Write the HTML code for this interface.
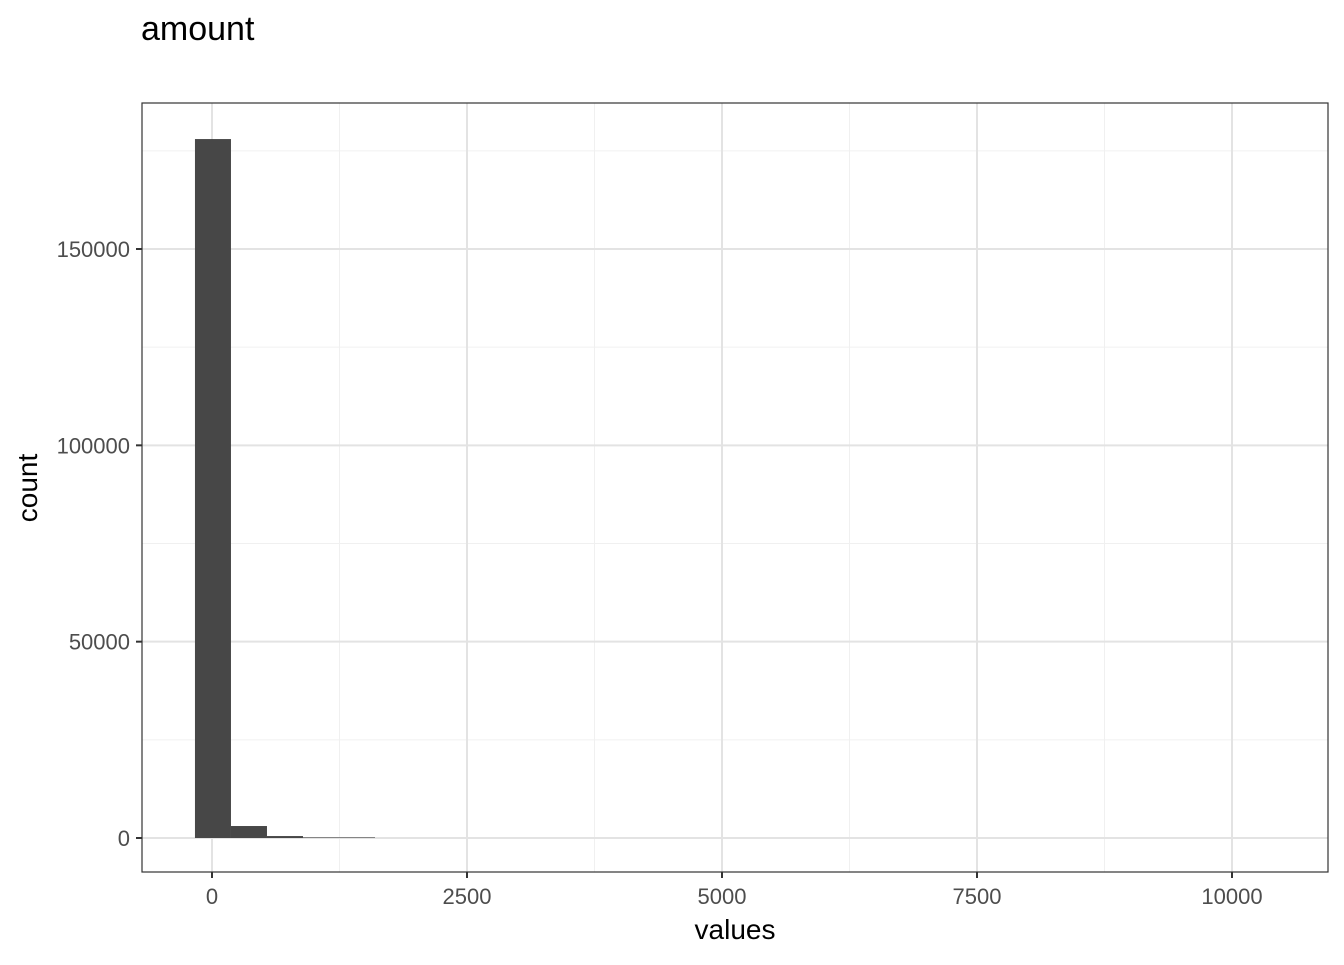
<!DOCTYPE html>
<html><head><meta charset="utf-8"><style>
body{margin:0;background:#fff;font-family:"Liberation Sans",Arial,sans-serif}
</style></head><body>
<svg id="c" width="1344" height="960" xmlns="http://www.w3.org/2000/svg">
<text x="141" y="40" font-size="34" fill="#000">amount</text>
<g id="grid"></g><g id="bars"></g><g id="axes"></g>
<text x="735" y="939" font-size="28" text-anchor="middle">values</text>
<text transform="translate(37,488) rotate(-90)" font-size="28" text-anchor="middle">count</text>
</svg>
<script>
const binStart=-167, binWidth=353;
const counts=[178000,3050,500,120,40,0,0,0,0,0,0,0,0,0,0,0,0,0,0,0,0,0,0,0,0,0,0,0,0,0];
const xTicks=[0,2500,5000,7500,10000];
const xTickLabels=["0","2500","5000","7500","10000"];
const yTicks=[0,50000,100000,150000];
const yTickLabels=["0","50000","100000","150000"];
const L=142,R=1328,T=103,B=872;
const X=v=>212+(v)*(255/2500);
const Y=v=>838-v*(589/150000);
const ns="http://www.w3.org/2000/svg";
function mk(p,t,a){const e=document.createElementNS(ns,t);for(const k in a)e.setAttribute(k,a[k]);p.appendChild(e);return e;}
const g=document.getElementById('grid'),b=document.getElementById('bars'),ax=document.getElementById('axes');
for(let i=0;i<xTicks.length+1;i++){const m=i*2500-1250;if(X(m)>L&&X(m)<R){const l=mk(g,'line',{x1:X(m),x2:X(m),y1:T,y2:B,stroke:'#f0f0f0','stroke-width':1});}}
for(let i=0;i<yTicks.length;i++){const m=yTicks[i]+25000;if(Y(m)>T){const l=mk(g,'line',{x1:L,x2:R,y1:Y(m),y2:Y(m),stroke:'#f0f0f0','stroke-width':1});}}
xTicks.forEach((v,i)=>{const l=mk(g,'line',{x1:X(v),x2:X(v),y1:T,y2:B,stroke:'#e3e3e3','stroke-width':2});
const t=mk(ax,'line',{x1:X(v),x2:X(v),y1:B,y2:B+6,stroke:'#333','stroke-width':2});
const tx=mk(ax,'text',{x:X(v),y:B+32,'font-size':22,fill:'#4d4d4d','text-anchor':'middle'});tx.textContent=xTickLabels[i];});
yTicks.forEach((v,i)=>{const l=mk(g,'line',{x1:L,x2:R,y1:Y(v),y2:Y(v),stroke:'#e3e3e3','stroke-width':2});
const t=mk(ax,'line',{x1:L-6,x2:L,y1:Y(v),y2:Y(v),stroke:'#333','stroke-width':2});
const tx=mk(ax,'text',{x:L-12,y:Y(v)+8,'font-size':22,fill:'#4d4d4d','text-anchor':'end'});tx.textContent=yTickLabels[i];});
counts.forEach((c,i)=>{if(c<=0)return;const x0=X(binStart+i*binWidth),x1=X(binStart+(i+1)*binWidth);const h=Math.max(Y(0)-Y(c),0.6);
const r=mk(b,'rect',{x:x0,y:Y(0)-h,width:x1-x0,height:h,fill:'#474747'});});
const f=mk(ax,'rect',{x:L,y:T,width:R-L,height:B-T,fill:'none',stroke:'#333','stroke-width':1.2});
</script></body></html>
